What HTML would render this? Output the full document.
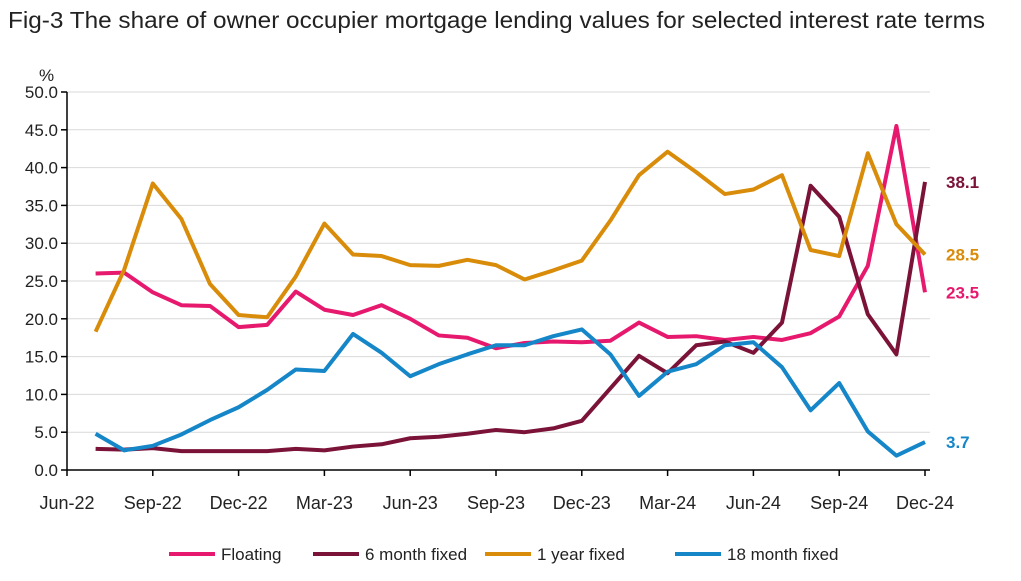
<!DOCTYPE html>
<html><head><meta charset="utf-8"><style>
body{margin:0;background:#fff;width:1021px;height:576px;overflow:hidden;font-family:"Liberation Sans",sans-serif}
</style></head><body>
<svg width="1021" height="576">
<text x="8" y="28" font-size="23" fill="#222" textLength="977" lengthAdjust="spacingAndGlyphs">Fig-3 The share of owner occupier mortgage lending values for selected interest rate terms</text>
<g id="grid"></g><g id="axes"></g><g id="series"></g><g id="labels"></g><g id="legend"></g>
</svg>
<script>
const categories=["Jul-22","Aug-22","Sep-22","Oct-22","Nov-22","Dec-22","Jan-23","Feb-23","Mar-23","Apr-23","May-23","Jun-23","Jul-23","Aug-23","Sep-23","Oct-23","Nov-23","Dec-23","Jan-24","Feb-24","Mar-24","Apr-24","May-24","Jun-24","Jul-24","Aug-24","Sep-24","Oct-24","Nov-24","Dec-24"];
const floating=[26.0,26.1,23.5,21.8,21.7,18.9,19.2,23.6,21.2,20.5,21.8,20.0,17.8,17.5,16.1,16.8,17.0,16.9,17.1,19.5,17.6,17.7,17.2,17.6,17.2,18.1,20.3,27.0,45.5,23.5];
const sixMonth=[2.8,2.7,2.9,2.5,2.5,2.5,2.5,2.8,2.6,3.1,3.4,4.2,4.4,4.8,5.3,5.0,5.5,6.5,10.8,15.1,12.8,16.5,17.0,15.5,19.5,37.6,33.5,20.6,15.3,38.1];
const oneYear=[18.3,26.5,37.9,33.2,24.6,20.5,20.2,25.6,32.6,28.5,28.3,27.1,27.0,27.8,27.1,25.2,26.4,27.7,33.0,39.0,42.1,39.4,36.5,37.1,39.0,29.1,28.3,41.9,32.5,28.5];
const eighteenMonth=[4.8,2.6,3.2,4.7,6.6,8.3,10.6,13.3,13.1,18.0,15.5,12.4,14.0,15.3,16.5,16.5,17.7,18.6,15.3,9.8,13.0,14.0,16.5,16.9,13.6,7.9,11.5,5.1,1.9,3.7];
const yTicks=[0,5,10,15,20,25,30,35,40,45,50];
const xTickLabels=["Jun-22","Sep-22","Dec-22","Mar-23","Jun-23","Sep-23","Dec-23","Mar-24","Jun-24","Sep-24","Dec-24"];
const NS="http://www.w3.org/2000/svg";
const x0=67,pm=28.6,y0=470,py=7.56;
const X=i=>x0+(i+1)*pm; const Y=v=>y0-v*py;
function mk(t,a,p){const e=document.createElementNS(NS,t);for(const k in a)e.setAttribute(k,a[k]);document.getElementById(p).appendChild(e);return e;}
yTicks.forEach(v=>{
 if(v>0){const g=mk('line',{x1:x0,x2:930,y1:Y(v),y2:Y(v),stroke:'#d9d9d9','stroke-width':1},'grid');
 
 }
 const t=mk('line',{x1:x0-6,x2:x0,y1:Y(v),y2:Y(v),stroke:'#000','stroke-width':1.5},'axes');
 
 
 const l=mk('text',{x:x0-9,y:Y(v)+6,'font-size':17,'text-anchor':'end',fill:'#222'},'axes');l.textContent=v.toFixed(1);
 
 
});
const pc=mk('text',{x:39,y:81,'font-size':17,fill:'#222'},'axes');pc.textContent='%';


const ya=mk('line',{x1:x0,x2:x0,y1:Y(50),y2:y0,stroke:'#000','stroke-width':1.5},'axes');


const xa=mk('line',{x1:x0,x2:930,y1:y0,y2:y0,stroke:'#000','stroke-width':1.5},'axes');


xTickLabels.forEach((s,k)=>{const xx=x0+k*3*pm;
 const t=mk('line',{x1:xx,x2:xx,y1:y0,y2:y0+6,stroke:'#000','stroke-width':1.5},'axes');
 
 
 const l=mk('text',{x:xx,y:509,'font-size':18,'text-anchor':'middle',fill:'#222'},'axes');l.textContent=s;
 
 
});
const series=[["floating",floating,"#e6196e","Floating"],["six-month-fixed",sixMonth,"#7b1238","6 month fixed"],["one-year-fixed",oneYear,"#d98c0a","1 year fixed"],["eighteen-month-fixed",eighteenMonth,"#1586c8","18 month fixed"]];
series.forEach(([n,d,c])=>{
 const p=mk('polyline',{points:d.map((v,i)=>X(i)+','+Y(v)).join(' '),fill:'none',stroke:c,'stroke-width':4,'stroke-linejoin':'round'},'series');
 
 
 const last=d[d.length-1];
 const l=mk('text',{x:946,y:Y(last)+6,'font-size':17,'font-weight':'bold',fill:c},'labels');l.textContent=last.toFixed(1);
 
 
});
const lx=[169,313,485,675];
series.forEach(([n,d,c,lab],k)=>{
 const s=mk('line',{x1:lx[k],x2:lx[k]+46,y1:554,y2:554,stroke:c,'stroke-width':4},'legend');
 
 
 const t=mk('text',{x:lx[k]+52,y:560,'font-size':17,fill:'#222'},'legend');t.textContent=lab;
 
 
});
</script>
</body></html>
